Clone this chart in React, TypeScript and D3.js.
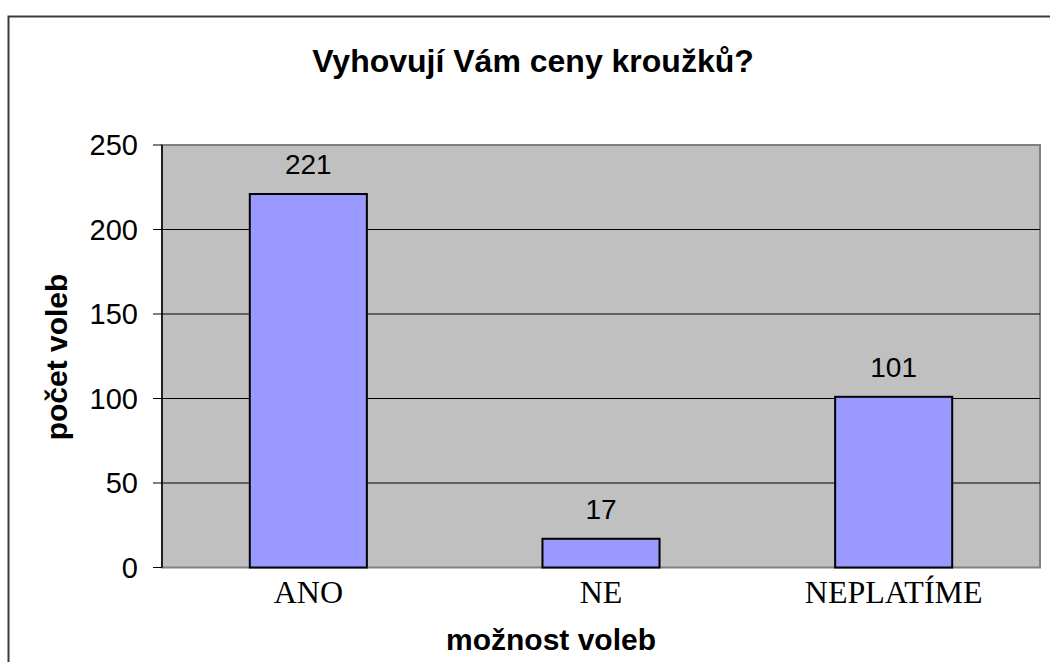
import { useMemo } from 'react'
import * as d3 from 'd3'

const categories = ['ANO', 'NE', 'NEPLATÍME']
const votes = [221, 17, 101]
const yTicks = [0, 50, 100, 150, 200, 250]

const W = 1050
const H = 662
const plot = { left: 162, right: 1040, top: 145, bottom: 567.5 }

const sans = '"Liberation Sans", Arial, sans-serif'
const serif = '"Liberation Serif", "Times New Roman", serif'

export default function App() {
  const x = useMemo(
    () => d3.scaleBand<string>().domain(categories).range([plot.left, plot.right]).padding(0),
    []
  )
  const y = useMemo(() => d3.scaleLinear().domain([0, 250]).range([plot.bottom, plot.top]), [])
  const barW = x.bandwidth() * 0.4

  return (
    <div style={{ position: 'fixed', left: 0, top: 0 }}>
      <svg width={W} height={H} style={{ display: 'block', background: '#fff' }}>
        {/* outer chart frame */}
        <rect x={8.5} y={16.5} width={W + 20} height={H + 20} fill="#fff" stroke="#3a3a3a" strokeWidth={2} />

        <text x={533} y={72} textAnchor="middle" fontFamily={sans} fontWeight="bold" fontSize={32}>
          Vyhovují Vám ceny kroužků?
        </text>

        {/* plot area */}
        <rect
          x={plot.left}
          y={plot.top}
          width={plot.right - plot.left}
          height={plot.bottom - plot.top}
          fill="#c0c0c0"
          stroke="#808080"
          strokeWidth={2}
        />

        {yTicks.map(t => (
          <g key={t}>
            {t > 0 && t < 250 && (
              <line x1={plot.left} x2={plot.right} y1={y(t)} y2={y(t)} stroke="#000" strokeWidth={1} />
            )}
            <line x1={plot.left - 9} x2={plot.left} y1={y(t)} y2={y(t)} stroke="#000" strokeWidth={1} />
            <text x={138} y={y(t)} dy="0.36em" textAnchor="end" fontFamily={sans} fontSize={29}>
              {t}
            </text>
          </g>
        ))}
        <line x1={plot.left} x2={plot.left} y1={plot.top} y2={plot.bottom} stroke="#000" strokeWidth={1.5} />

        {categories.map((c, i) => {
          const cx = (x(c) ?? 0) + x.bandwidth() / 2
          return (
            <g key={c}>
              <rect
                x={cx - barW / 2}
                y={y(votes[i])}
                width={barW}
                height={plot.bottom - y(votes[i])}
                fill="#9999ff"
                stroke="#000"
                strokeWidth={2}
              />
              <text x={cx} y={y(votes[i]) - 20} textAnchor="middle" fontFamily={sans} fontSize={28}>
                {votes[i]}
              </text>
              <text x={cx} y={603} textAnchor="middle" fontFamily={serif} fontSize={32}>
                {c}
              </text>
            </g>
          )
        })}

        <text x={551} y={650} textAnchor="middle" fontFamily={sans} fontWeight="bold" fontSize={30}>
          možnost voleb
        </text>
        <text
          transform={`translate(67, 357) rotate(-90)`}
          textAnchor="middle"
          fontFamily={sans}
          fontWeight="bold"
          fontSize={30}
        >
          počet voleb
        </text>
      </svg>
    </div>
  )
}
